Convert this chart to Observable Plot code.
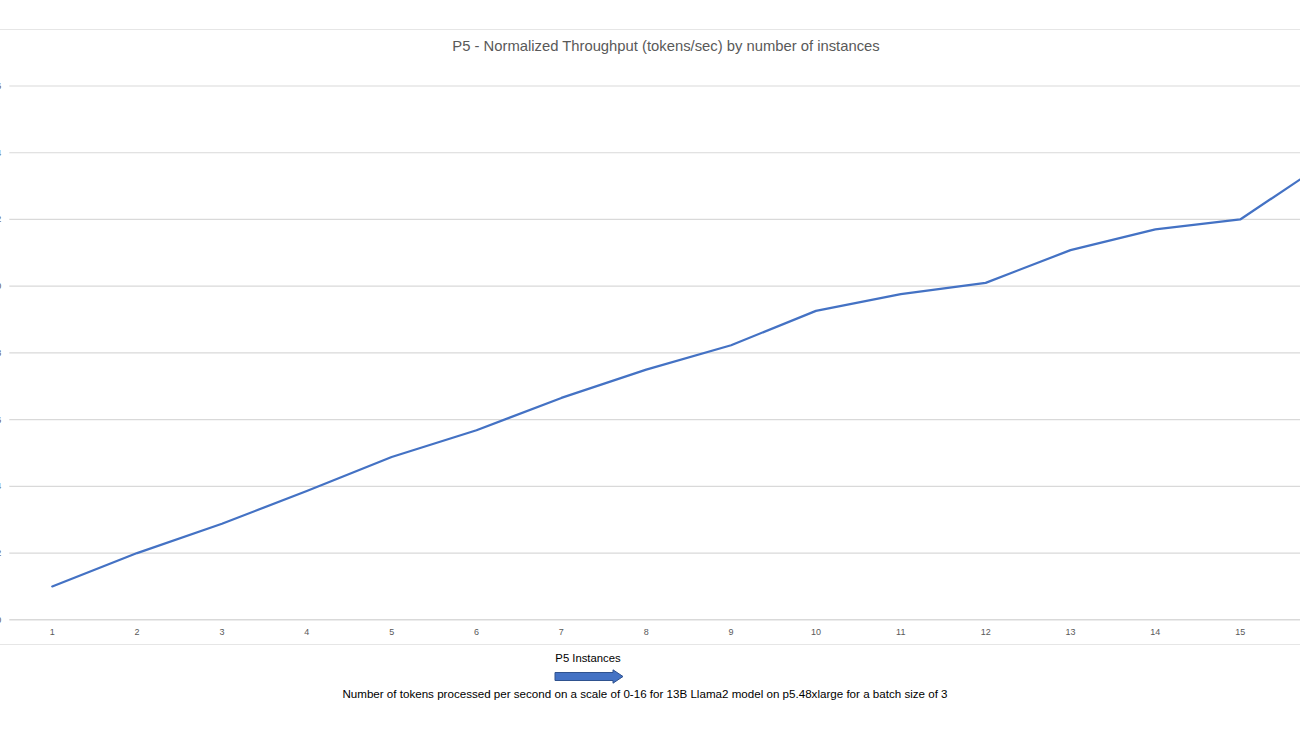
<!DOCTYPE html>
<html>
<head>
<meta charset="utf-8">
<script src="https://cdn.jsdelivr.net/npm/d3@7"></script>
<script src="https://cdn.jsdelivr.net/npm/@observablehq/plot@0.6"></script>
<style>
  html, body { margin: 0; padding: 0; width: 1300px; height: 731px; overflow: hidden; background: #fff; }
  body { position: relative; font-family: "Liberation Sans", Arial, sans-serif; }
  #chart { position: absolute; left: -40px; top: 0; width: 1420px; height: 731px; }
  #chart svg { max-width: none !important; }
  .hline { position: absolute; left: 0; width: 1300px; height: 0; border-top: 1.5px solid #e6e6e6; }
  #title { position: absolute; left: 0; width: 1332px; top: 38px; text-align: center; font-size: 14.8px; color: #595959; white-space: nowrap; }
  #xtitle { position: absolute; left: 488px; width: 200px; top: 652px; text-align: center; font-size: 11.3px; color: #000; }
  #caption { position: absolute; left: 0; width: 1290px; top: 687px; text-align: center; font-size: 11.6px; color: #000; white-space: nowrap; }
  #arrow { position: absolute; left: 554px; top: 669px; }
</style>
</head>
<body>
<div class="hline" style="top:28.5px"></div>
<div id="title">P5 - Normalized Throughput (tokens/sec) by number of instances</div>
<div id="chart"></div>
<div class="hline" style="top:643.5px"></div>
<div id="xtitle">P5 Instances</div>
<svg id="arrow" width="72" height="16">
  <polygon points="1,3.5 59,3.5 59,0.8 69,7.5 59,14.2 59,11.5 1,11.5" fill="#4472C4" stroke="#2F528F" stroke-width="1"/>
</svg>
<div id="caption">Number of tokens processed per second on a scale of 0-16 for 13B Llama2 model on p5.48xlarge for a batch size of 3</div>
<script>
const instances = [1, 2, 3, 4, 5, 6, 7, 8, 9, 10, 11, 12, 13, 14, 15, 16];
const throughput = [1.0, 2.0, 2.88, 3.86, 4.88, 5.68, 6.65, 7.5, 8.23, 9.26, 9.76, 10.1, 11.08, 11.7, 12.0, 13.7];
const yTicks = [0, 2, 4, 6, 8, 10, 12, 14, 16];

const data = instances.map((x, i) => ({x, y: throughput[i]}));

const chart = Plot.plot({
  width: 1420,
  height: 731,
  marginLeft: 49.3,
  marginRight: 13,
  marginTop: 85.5,
  marginBottom: 111.7,
  style: {fontFamily: "'Liberation Sans', Arial, sans-serif", background: "transparent", maxWidth: "none"},
  x: {domain: [0.5, 16.5], axis: null},
  y: {domain: [0, 16], axis: null},
  marks: [
    Plot.ruleY(yTicks.filter(d => d > 0), {stroke: "#d9d9d9", strokeWidth: 1.2}),
    Plot.ruleY([0], {stroke: "#d9d9d9", strokeWidth: 1.4}),
    Plot.axisY({ticks: yTicks, tickSize: 0, tickPadding: 8.5, fontSize: 9, fill: "#595959", label: null}),
    Plot.axisX({ticks: instances, tickSize: 0, tickPadding: 8.5, fontSize: 9, fill: "#595959", label: null}),
    Plot.line(data, {x: "x", y: "y", stroke: "#4472C4", strokeWidth: 2.25})
  ]
});
document.getElementById("chart").appendChild(chart);
</script>
</body>
</html>
